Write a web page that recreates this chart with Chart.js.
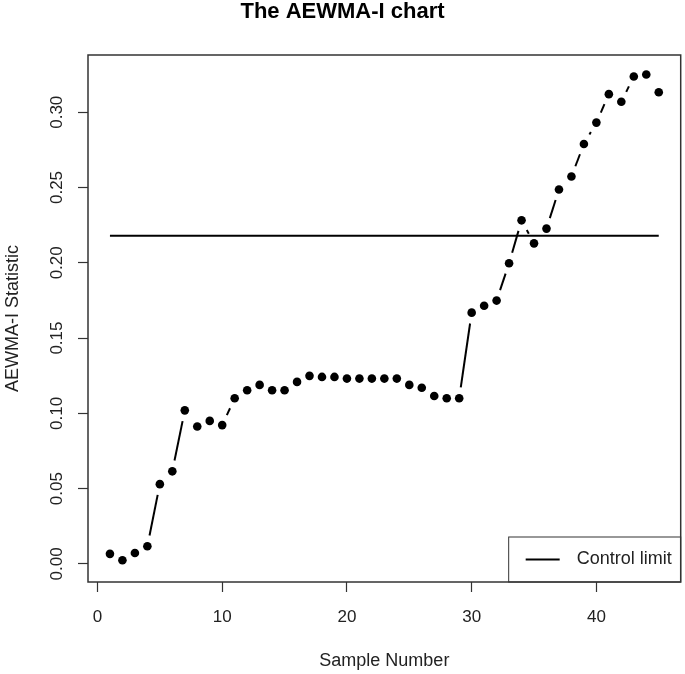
<!DOCTYPE html>
<html>
<head>
<meta charset="utf-8">
<script src="https://cdn.jsdelivr.net/npm/chart.js@4.4.1/dist/chart.umd.min.js"></script>
<style>
    html, body { margin: 0; padding: 0; background: #ffffff; }
    #wrap { width: 685px; height: 674px; }
</style>
</head>
<body>
<div id="wrap"><canvas id="graficoAewma"></canvas></div>
<script>
const amostras = [1, 2, 3, 4, 5, 6, 7, 8, 9, 10, 11, 12, 13, 14, 15, 16, 17, 18, 19, 20, 21, 22, 23,
    24, 25, 26, 27, 28, 29, 30, 31, 32, 33, 34, 35, 36, 37, 38, 39, 40, 41, 42, 43, 44, 45];
const estatistica = [0.0067, 0.0024, 0.0073, 0.0117, 0.0530, 0.0615, 0.1020, 0.0913, 0.0950, 0.0922,
    0.1100, 0.1153, 0.1189, 0.1153, 0.1153, 0.1209, 0.1249, 0.1242, 0.1242, 0.1231,
    0.1231, 0.1231, 0.1231, 0.1231, 0.1189, 0.1170, 0.1115, 0.1100, 0.1100, 0.1669,
    0.1715, 0.1749, 0.1997, 0.2282, 0.2129, 0.2227, 0.2487, 0.2573, 0.2789, 0.2931,
    0.3120, 0.3070, 0.3237, 0.3250, 0.3133];
const limiteX = [1, 45];
const limiteY = [0.218, 0.218];
const ticksX = [0, 10, 20, 30, 40];
const ticksY = [0.00, 0.05, 0.10, 0.15, 0.20, 0.25, 0.30];

const fonte = "'Liberation Sans', Arial, sans-serif";
const corEixo = '#333333';

// linhas do tipo "b" do R: segmentos com folga em volta de cada ponto
const linhasComFolga = {
    id: 'linhasComFolga',
    afterDatasetsDraw(chart) {
        const pontos = chart.getDatasetMeta(0).data;
        const folga = 11;
        const ctx = chart.ctx;
        ctx.save();
        ctx.strokeStyle = '#000000';
        ctx.lineWidth = 2;
        for (let i = 0; i < pontos.length - 1; i++) {
            const a = pontos[i], b = pontos[i + 1];
            const dx = b.x - a.x, dy = b.y - a.y;
            const len = Math.sqrt(dx * dx + dy * dy);
            if (len <= 2 * folga) continue;
            const ux = dx / len, uy = dy / len;
            ctx.beginPath();
            ctx.moveTo(a.x + ux * folga, a.y + uy * folga);
            ctx.lineTo(b.x - ux * folga, b.y - uy * folga);
            ctx.stroke();
        }
        ctx.restore();
    }
};

const caixaELegenda = {
    id: 'caixaELegenda',
    afterDraw(chart) {
        const {ctx, chartArea: area} = chart;
        ctx.save();
        ctx.strokeStyle = corEixo;
        ctx.lineWidth = 1.5;
        ctx.strokeRect(area.left, area.top, area.right - area.left, area.bottom - area.top);

        const texto = chart.data.datasets[1].label;
        ctx.font = '18px ' + fonte;
        const larguraTexto = ctx.measureText(texto).width;
        const largura = larguraTexto + 77;
        const altura = 45;
        const x0 = area.right - largura;
        const y0 = area.bottom - altura;
        ctx.lineWidth = 1;
        ctx.strokeRect(x0, y0, largura, altura);
        const meio = y0 + altura / 2;
        ctx.strokeStyle = '#000000';
        ctx.lineWidth = 2;
        ctx.beginPath();
        ctx.moveTo(x0 + 17, meio);
        ctx.lineTo(x0 + 51, meio);
        ctx.stroke();
        ctx.fillStyle = '#222222';
        ctx.textBaseline = 'middle';
        ctx.textAlign = 'left';
        ctx.fillText(texto, x0 + 68, meio);
        ctx.restore();
    }
};

const ctxAewma = document.getElementById('graficoAewma');
new Chart(ctxAewma, {
    type: 'scatter',
    data: {
        datasets: [{
            label: 'AEWMA-I',
            data: amostras.map((x, i) => ({x: x, y: estatistica[i]})),
            backgroundColor: '#000000',
            borderColor: '#000000',
            pointRadius: 4.3,
            pointBorderWidth: 0,
            showLine: false
        }, {
            label: 'Control limit',
            type: 'line',
            data: limiteX.map((x, i) => ({x: x, y: limiteY[i]})),
            borderColor: '#000000',
            borderWidth: 2,
            pointRadius: 0,
            fill: false
        }]
    },
    options: {
        responsive: true,
        maintainAspectRatio: false,
        animation: false,
        layout: {
            padding: {top: 0, bottom: 0, left: 0, right: 0}
        },
        plugins: {
            legend: {display: false},
            tooltip: {enabled: false},
            title: {
                display: true,
                text: 'The AEWMA-I chart',
                color: '#000000',
                font: {family: fonte, size: 22, weight: 'bold', lineHeight: 1.0},
                padding: {top: 1, bottom: 32}
            }
        },
        scales: {
            x: {
                type: 'linear',
                min: -0.76,
                max: 46.76,
                afterBuildTicks: (scale) => { scale.ticks = ticksX.map(v => ({value: v})); },
                afterFit: (scale) => { scale.height = 92; },
                border: {display: false},
                grid: {
                    drawOnChartArea: false,
                    drawTicks: true,
                    tickLength: 10,
                    tickColor: corEixo,
                    tickWidth: 1.2
                },
                ticks: {
                    color: '#222222',
                    padding: 15,
                    font: {family: fonte, size: 17}
                },
                title: {
                    display: true,
                    text: 'Sample Number',
                    color: '#222222',
                    font: {family: fonte, size: 18},
                    padding: {top: 0, bottom: 2}
                }
            },
            y: {
                min: -0.012,
                max: 0.338,
                afterBuildTicks: (scale) => { scale.ticks = ticksY.map(v => ({value: v})); },
                afterFit: (scale) => { scale.width = 88; },
                border: {display: false},
                grid: {
                    drawOnChartArea: false,
                    drawTicks: true,
                    tickLength: 10,
                    tickColor: corEixo,
                    tickWidth: 1.2
                },
                ticks: {
                    color: '#222222',
                    minRotation: 90,
                    maxRotation: 90,
                    crossAlign: 'center',
                    padding: 4,
                    font: {family: fonte, size: 17},
                    callback: (v) => Number(v).toFixed(2)
                },
                title: {
                    display: true,
                    text: 'AEWMA-I Statistic',
                    color: '#222222',
                    font: {family: fonte, size: 18},
                    padding: {top: 2, bottom: 0}
                }
            }
        }
    },
    plugins: [linhasComFolga, caixaELegenda]
});
</script>
</body>
</html>
